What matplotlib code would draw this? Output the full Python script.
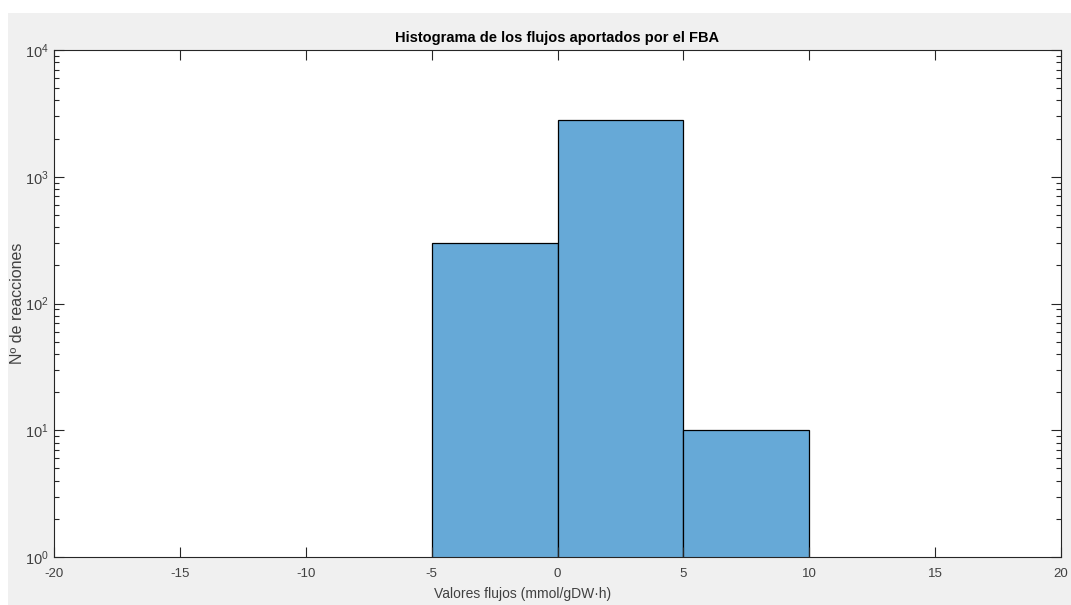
import numpy as np
import matplotlib.pyplot as plt
from matplotlib.patches import Rectangle
from matplotlib.ticker import LogLocator

# Histogram bins and counts of FBA fluxes
bin_edges = [-5, 0, 5, 10]
counts = [300, 2820, 10]
x_ticks = [-20, -15, -10, -5, 0, 5, 10, 15, 20]

plt.rcParams['font.family'] = ['Liberation Sans', 'DejaVu Sans']
plt.rcParams['mathtext.fontset'] = 'custom'
plt.rcParams['mathtext.rm'] = 'Liberation Sans'
plt.rcParams['mathtext.it'] = 'Liberation Sans'
plt.rcParams['mathtext.default'] = 'regular'

axis_color = '#262626'
label_color = '#404040'

fig = plt.figure(figsize=(10.71, 6.05), dpi=100, facecolor='white')
# window background
fig.patches.append(Rectangle((8 / 1071, 0), 1, 1 - 13 / 605, transform=fig.transFigure,
                             facecolor='#f0f0f0', edgecolor='none', zorder=-10))

ax = fig.add_axes([54 / 1071, 48 / 605, 1007 / 1071, 507 / 605])

widths = np.diff(bin_edges)
ax.bar(bin_edges[:-1], counts, width=widths, align='edge', log=True,
       color='#66a9d7', edgecolor='black', linewidth=0.9)

ax.set_xlim(-20, 20)
ax.set_ylim(1, 1e4)
ax.set_xticks(x_ticks)
ax.set_xticklabels([str(t) for t in x_ticks])
ax.yaxis.set_major_locator(LogLocator(base=10, numticks=10))
ax.yaxis.set_minor_locator(LogLocator(base=10, subs=np.arange(2, 10), numticks=10))

for s in ax.spines.values():
    s.set_color(axis_color)
    s.set_linewidth(0.8)

ax.tick_params(which='both', direction='in', top=True, right=True,
               color=axis_color, labelcolor=label_color, labelsize=9.5, width=0.8)
ax.tick_params(which='major', length=7)
ax.tick_params(which='minor', length=3.5)
ax.tick_params(axis='x', pad=8)
ax.tick_params(axis='y', pad=4, labelsize=10.5)

ax.set_title('Histograma de los flujos aportados por el FBA', fontsize=10.5,
             fontweight='bold', color='black', pad=6)
ax.set_xlabel('Valores flujos (mmol/gDW·h)', fontsize=10, color=label_color)
ax.xaxis.set_label_coords((523 - 54) / 1007, -(594 - 557) / 507)
ax.xaxis.label.set_va('center')
ax.set_ylabel('Nº de reacciones', fontsize=11.5, color=label_color)
ax.yaxis.set_label_coords(-(54 - 18) / 1007, 0.5)
ax.yaxis.label.set_va('center')

fig.savefig('out.png', dpi=100, facecolor=fig.get_facecolor())
